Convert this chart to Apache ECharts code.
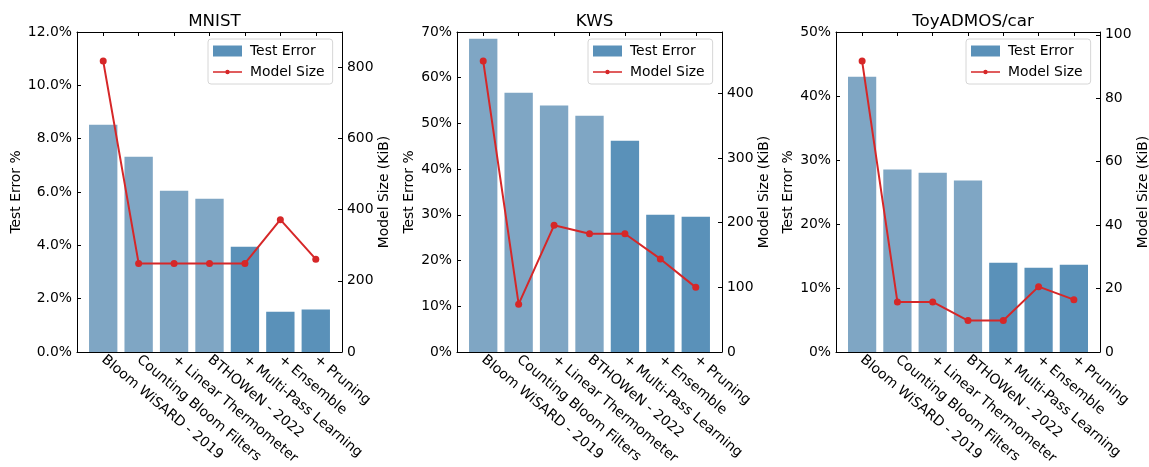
<!DOCTYPE html>
<html>
<head>
<meta charset="utf-8">
<script src="https://cdn.jsdelivr.net/npm/echarts@6/dist/echarts.min.js"></script>
<style>
  html, body { margin: 0; padding: 0; background: #fff; }
  #chart { width: 1149px; height: 467px; }
</style>
</head>
<body>
<div id="chart"></div>
<script>
// Ablation of WiSARD-style models across three benchmarks
const categories = [
  'Bloom WiSARD - 2019',
  'Counting Bloom Filters',
  '+ Linear Thermometer',
  'BTHOWeN - 2022',
  '+ Multi-Pass Learning',
  '+ Ensemble',
  '+ Pruning'
];
const panelTitles = ['MNIST', 'KWS', 'ToyADMOS/car'];

// Test error (%) per configuration
const mnistError = [8.52, 7.32, 6.05, 5.75, 3.95, 1.51, 1.59];
const kwsError   = [68.5, 56.7, 53.9, 51.7, 46.2, 30.0, 29.6];
const toyError   = [43.0, 28.5, 28.0, 26.8, 13.96, 13.18, 13.65];

// Model size (KiB) per configuration
const mnistSize = [818, 249, 249, 249, 249, 372, 261];
const kwsSize   = [450, 74, 196, 183, 183, 144, 100];
const toySize   = [91.7, 15.8, 15.8, 9.9, 9.9, 20.6, 16.5];

// Axis settings per panel
const errorAxisMax  = [12, 70, 50];
const errorAxisStep = [2, 10, 10];
const errorDecimals = [1, 0, 0];
const sizeAxisStep  = [200, 100, 20];

// The first configurations are earlier work (lighter bars)
const priorWorkCount = 4;

const errors = [mnistError, kwsError, toyError];
const sizes = [mnistSize, kwsSize, toySize];

const FONT = 'DejaVu Sans';
const FS = 13.9;
const LIGHT = '#7fa6c4';
const DARK = '#5a91b9';
const RED = '#d62728';

const gridLeft = [77, 457, 836];
const gridWidth = [265, 265, 264];
const gridTop = 32, gridHeight = 320;
const yNameGapLeft = [54, 41, 41];
const yNameGapRight = [35, 35, 36];

// x extent mimics bar width 0.8 plus 5% margins
const xMin = -0.74, xMax = 6.74;
const catIdx = categories.map((_, i) => i);

// legend glyph for the line series: a thin line with a small dot, in a 29x11 box
const lineDotIcon = 'path://M0,0L0.01,0L0.01,0.01Z M29,11L28.99,11L28.99,10.99Z ' +
  'M0,4.7L29,4.7L29,6.3L0,6.3Z M14.5,3.3A2.2,2.2 0 1 1 14.49,3.3Z';

const chart = echarts.init(document.getElementById('chart'), null, { renderer: 'canvas' });

const grid = [], xAxis = [], yAxis = [], series = [], title = [], legend = [];

function stepsUpTo(step, max) {
  const out = [];
  for (let v = 0; v <= max + 1e-9; v += step) out.push(v);
  return out;
}

for (let p = 0; p < 3; p++) {
  grid.push({
    left: gridLeft[p], top: gridTop, width: gridWidth[p], height: gridHeight,
    containLabel: false, outerBoundsMode: 'none'
  });

  const tickStyle = { show: true, inside: true, length: 4, lineStyle: { color: '#000', width: 1 } };

  // bottom axis: one tick and label per configuration
  xAxis.push({
    type: 'value', gridIndex: p, min: xMin, max: xMax, position: 'bottom',
    axisLine: { show: true, onZero: false, lineStyle: { color: '#000', width: 1 } },
    axisTick: Object.assign({ customValues: catIdx }, tickStyle),
    axisLabel: {
      customValues: catIdx, rotate: -40, margin: 6,
      fontFamily: FONT, fontSize: FS, color: '#000',
      formatter: v => categories[Math.round(v)]
    },
    splitLine: { show: false }
  });
  // top spine with ticks
  xAxis.push({
    type: 'value', gridIndex: p, min: xMin, max: xMax, position: 'top',
    axisLine: { show: true, onZero: false, lineStyle: { color: '#000', width: 1 } },
    axisTick: Object.assign({ customValues: catIdx }, tickStyle),
    axisLabel: { show: false },
    splitLine: { show: false }
  });

  const dec = errorDecimals[p];
  yAxis.push({
    type: 'value', gridIndex: p, min: 0, max: errorAxisMax[p], interval: errorAxisStep[p],
    position: 'left',
    name: 'Test Error %', nameLocation: 'middle', nameRotate: 90, nameGap: yNameGapLeft[p],
    nameTextStyle: { fontFamily: FONT, fontSize: FS, color: '#000' },
    axisLine: { show: true, onZero: false, lineStyle: { color: '#000', width: 1 } },
    axisTick: tickStyle,
    axisLabel: { fontFamily: FONT, fontSize: FS, color: '#000', margin: 5,
      formatter: v => v.toFixed(dec) + '%' },
    splitLine: { show: false }
  });

  const sMax = Math.max(...sizes[p]) * 1.1;
  const sTicks = stepsUpTo(sizeAxisStep[p], sMax);
  yAxis.push({
    type: 'value', gridIndex: p, min: 0, max: sMax,
    position: 'right',
    name: 'Model Size (KiB)', nameLocation: 'middle', nameRotate: 90, nameGap: yNameGapRight[p],
    nameTextStyle: { fontFamily: FONT, fontSize: FS, color: '#000' },
    axisLine: { show: true, onZero: false, lineStyle: { color: '#000', width: 1 } },
    axisTick: Object.assign({ customValues: sTicks }, tickStyle),
    axisLabel: { customValues: sTicks, fontFamily: FONT, fontSize: FS, color: '#000', margin: 5,
      formatter: v => String(Math.round(v)) },
    splitLine: { show: false }
  });

  const barW = gridWidth[p] * 0.8 / (xMax - xMin);
  series.push({
    name: 'Test Error', type: 'bar',
    xAxisIndex: 2 * p, yAxisIndex: 2 * p,
    barWidth: barW,
    itemStyle: { color: DARK },
    data: errors[p].map((v, j) => ({
      value: [j, v],
      itemStyle: { color: j < priorWorkCount ? LIGHT : DARK }
    })),
    z: 2
  });
  series.push({
    name: 'Model Size', type: 'line',
    xAxisIndex: 2 * p, yAxisIndex: 2 * p + 1,
    symbol: 'circle', symbolSize: 7,
    lineStyle: { color: RED, width: 2 },
    itemStyle: { color: RED },
    data: sizes[p].map((v, j) => [j, v]),
    z: 5
  });

  title.push({
    text: panelTitles[p],
    left: gridLeft[p] + gridWidth[p] / 2, top: 8, textAlign: 'center',
    textStyle: { fontFamily: FONT, fontSize: 16.7, fontWeight: 'normal', color: '#000' }
  });

  legend.push({
    data: [
      { name: 'Test Error', icon: 'rect' },
      { name: 'Model Size', icon: lineDotIcon }
    ],
    orient: 'vertical',
    left: gridLeft[p] + gridWidth[p] - 134, top: 39,
    padding: [5, 8, 5, 5],
    itemWidth: 29, itemHeight: 11, itemGap: 7,
    selectedMode: false,
    borderColor: '#d6d6d6', borderWidth: 1, borderRadius: 3,
    backgroundColor: 'rgba(255,255,255,0.8)',
    textStyle: { fontFamily: FONT, fontSize: FS, color: '#000', padding: [0, 0, 0, 3] }
  });
}

chart.setOption({
  animation: false,
  backgroundColor: '#fff',
  title, legend, grid, xAxis, yAxis, series
});
</script>
</body>
</html>
